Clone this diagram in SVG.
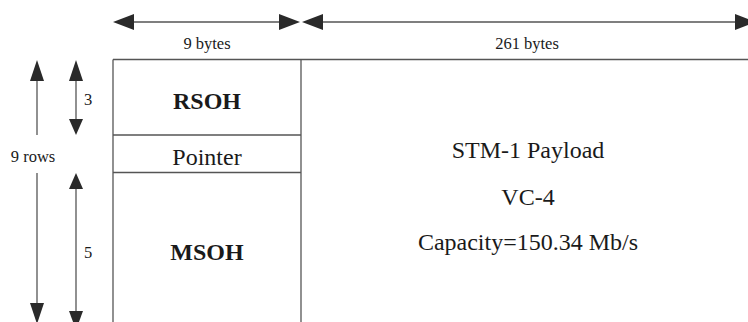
<svg xmlns="http://www.w3.org/2000/svg" width="748" height="322" viewBox="0 0 748 322">
<defs>
<style>
.ln{stroke:#555;stroke-width:1.3;fill:none}
.ar{stroke:#555;stroke-width:1.3;fill:none}
.hd{fill:#2a2a2a;stroke:none}
text{font-family:'Liberation Serif',serif;fill:#1a1a1a;text-anchor:middle}
.sm{font-size:16.5px}
.big{font-size:24px}
.b{font-weight:bold}
</style>
</defs>
<rect width="748" height="322" fill="#fff"/>
<g id="connectors">
<line class="ar" x1="130" y1="22" x2="284" y2="22"/>
<polygon class="hd" points="113,22 134,14 134,30"/>
<polygon class="hd" points="300,22 279,14 279,30"/>
<line class="ar" x1="318" y1="22" x2="740" y2="22"/>
<polygon class="hd" points="302,22 323,14 323,30"/>
<polygon class="hd" points="756,22 735,14 735,30"/>
<line class="ar" x1="37" y1="78" x2="37" y2="135"/>
<polygon class="hd" points="37,60 30,81 44,81"/>
<line class="ar" x1="37" y1="173" x2="37" y2="306"/>
<polygon class="hd" points="37,324 30,303 44,303"/>
<line class="ar" x1="76" y1="78" x2="76" y2="122"/>
<polygon class="hd" points="76,60 69,81 83,81"/>
<polygon class="hd" points="76,135 69,119 83,119"/>
<line class="ar" x1="76" y1="186" x2="76" y2="314"/>
<polygon class="hd" points="76,173 69,189 83,189"/>
<polygon class="hd" points="76,330 69,311 83,311"/>
</g>
<g id="frame">
<line class="ln" x1="113" y1="59.5" x2="748" y2="59.5"/>
<line class="ln" x1="113" y1="59.5" x2="113" y2="322"/>
<line class="ln" x1="301" y1="59.5" x2="301" y2="322"/>
</g>
<g id="rsoh">
<line class="ln" x1="113" y1="135" x2="301" y2="135"/>
<text class="big b" x="207" y="109" font-family="Liberation Serif">RSOH</text>
</g>
<g id="pointer">
<line class="ln" x1="113" y1="172.5" x2="301" y2="172.5"/>
<text class="big" x="207" y="165" font-family="Liberation Serif">Pointer</text>
</g>
<g id="msoh">
<text class="big b" x="207" y="260" font-family="Liberation Serif">MSOH</text>
</g>
<g id="payload">
<text class="big" x="528" y="158" font-family="Liberation Serif">STM-1 Payload</text>
<text class="big" x="528" y="205" font-family="Liberation Serif">VC-4</text>
<text class="big" x="528" y="250" font-family="Liberation Serif">Capacity=150.34 Mb/s</text>
</g>
<g id="labels">
<text class="sm" x="207" y="49" font-family="Liberation Serif">9 bytes</text>
<text class="sm" x="527" y="49" font-family="Liberation Serif">261 bytes</text>
<text class="sm" x="33" y="162" font-family="Liberation Serif">9 rows</text>
<text class="sm" x="88" y="105" font-family="Liberation Serif">3</text>
<text class="sm" x="88" y="258" font-family="Liberation Serif">5</text>
</g>
</svg>
